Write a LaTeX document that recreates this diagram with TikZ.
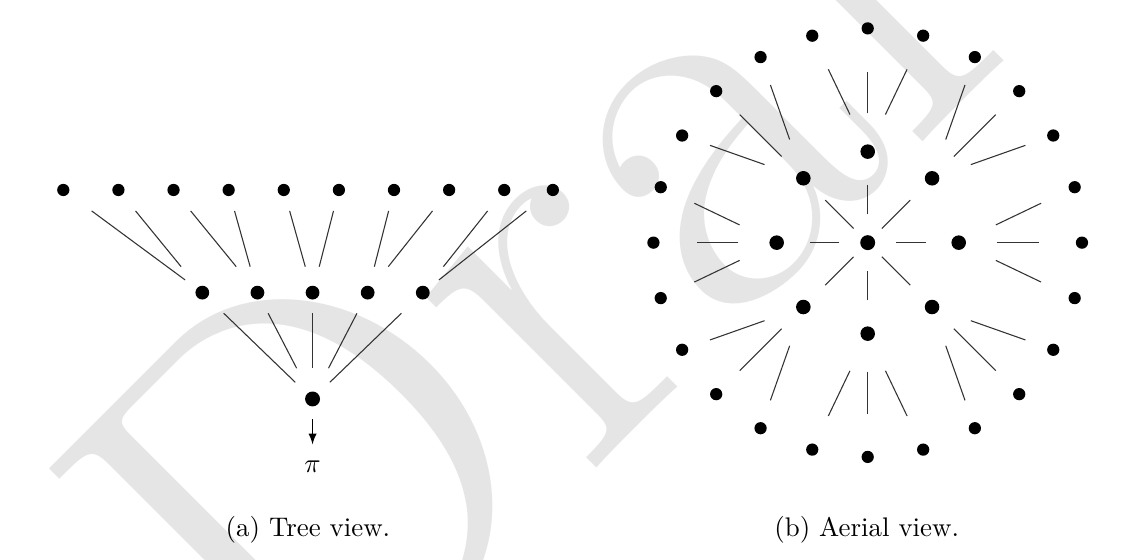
\documentclass[tikz,border=0pt]{standalone}
\usepackage{fontspec}
\usetikzlibrary{positioning,calc}

\begin{document}
\begin{tikzpicture}[
    node distance=0.72cm,
    leaf/.style={
        circle,
        fill=black,
        inner sep=0pt,
        minimum size=0.16cm
    },
    branch/.style={
        circle,
        fill=black,
        inner sep=0pt,
        minimum size=0.18cm
    },
    root/.style={
        circle,
        fill=black,
        inner sep=0pt,
        minimum size=0.195cm
    },
    link/.style={
        draw=black!80,
        line width=0.4pt
    },
    arrow/.style={
        ->,
        >=latex,
        line width=0.4pt
    },
    watermark/.style={
        text=black!10,
        font=\fontsize{210}{210}\selectfont,
        inner sep=0pt,
        rotate=45,
        anchor=base west
    },
    caption/.style={
        anchor=base,
        font=\normalsize
    }
]
\useasboundingbox (0,0) rectangle (14.892,7.315);

% Filigrana
\node[watermark] (draft) at (3.937,-2.652) {Draft};

% Parte sinistra - Albero
\node[leaf] (t1) at (0.827,4.833) {};
\node[leaf, right of=t1] (t2) {};
\node[leaf, right of=t2] (t3) {};
\node[leaf, right of=t3] (t4) {};
\node[leaf, right of=t4] (t5) {};
\node[leaf, right of=t5] (t6) {};
\node[leaf, right of=t6] (t7) {};
\node[leaf, right of=t7] (t8) {};
\node[leaf, right of=t8] (t9) {};
\node[leaf, right of=t9, node distance=0.635cm] (t10) {};

\node[branch] (m1) at (2.643,3.492) {};
\node[branch, right of=m1] (m2) {};
\node[branch, right of=m2] (m3) {};
\node[branch, right of=m3] (m4) {};
\node[branch, right of=m4] (m5) {};

\node[root, below of=m3, node distance=1.389cm] (r) {};
\node[below of=r, node distance=0.888cm] (pi) {$\pi$};

\draw[link] ($(t1)!0.204!(m1)$) -- ($(t1)!0.876!(m1)$);
\draw[link] ($(t2)!0.204!(m1)$) -- ($(t2)!0.747!(m1)$);
\draw[link] ($(t3)!0.204!(m2)$) -- ($(t3)!0.747!(m2)$);
\draw[link] ($(t4)!0.204!(m2)$) -- ($(t4)!0.747!(m2)$);
\draw[link] ($(t5)!0.204!(m3)$) -- ($(t5)!0.747!(m3)$);
\draw[link] ($(t6)!0.204!(m3)$) -- ($(t6)!0.747!(m3)$);
\draw[link] ($(t7)!0.204!(m4)$) -- ($(t7)!0.747!(m4)$);
\draw[link] ($(t8)!0.204!(m4)$) -- ($(t8)!0.747!(m4)$);
\draw[link] ($(t9)!0.204!(m5)$) -- ($(t9)!0.747!(m5)$);
\draw[link] ($(t10)!0.204!(m5)$) -- ($(t10)!0.876!(m5)$);

\draw[link] ($(m1)!0.194!(r)$) -- ($(m1)!0.843!(r)$);
\draw[link] ($(m2)!0.194!(r)$) -- ($(m2)!0.711!(r)$);
\draw[link] ($(m3)!0.194!(r)$) -- ($(m3)!0.711!(r)$);
\draw[link] ($(m4)!0.194!(r)$) -- ($(m4)!0.711!(r)$);
\draw[link] ($(m5)!0.194!(r)$) -- ($(m5)!0.843!(r)$);

\draw[arrow, shorten <=4.5pt, shorten >=2.7pt] (r) -- (pi);

% Parte destra - Vista aerea
\node[root] (c) at (11.335,4.145) {};
\foreach \i in {0,...,7}
    \node[branch, minimum size=0.19cm] (b\i) at ($(c)+(90-45*\i:1.189)$) {};
\foreach \j in {0,...,23}
    \node[leaf] (l\j) at ($(c)+(90-15*\j:2.799)$) {};

\foreach \i in {0,...,7} {
    \pgfmathsetmacro\fstart{isodd(\i) ? 0.22 : 0.31}
    \pgfmathsetmacro\fend{isodd(\i) ? 0.66 : 0.635}
    \draw[link] ($(c)!\fstart!(b\i)$) -- ($(c)!\fend!(b\i)$);
}

\foreach \i in {0,...,7}
    \foreach \s in {-1,0,1} {
        \pgfmathtruncatemacro\lk{mod(3*\i+\s+24,24)}
        \pgfmathsetmacro\fstart{\s==0 ? (isodd(\i) ? 0.25 : 0.31) : 0.32}
        \pgfmathsetmacro\fend{\s==0 ? (isodd(\i) ? 0.73 : 0.65) : (isodd(\i) ? 0.77 : 0.71)}
        \draw[link] ($(b\i)!\fstart!(l\lk)$) -- ($(b\i)!\fend!(l\lk)$);
    }

% Didascalie
\node[caption] (capa) at (4.023,0.304) {(a) Tree view.};
\node[caption] (capb) at (11.322,0.304) {(b) Aerial view.};

\end{tikzpicture}
\end{document}
